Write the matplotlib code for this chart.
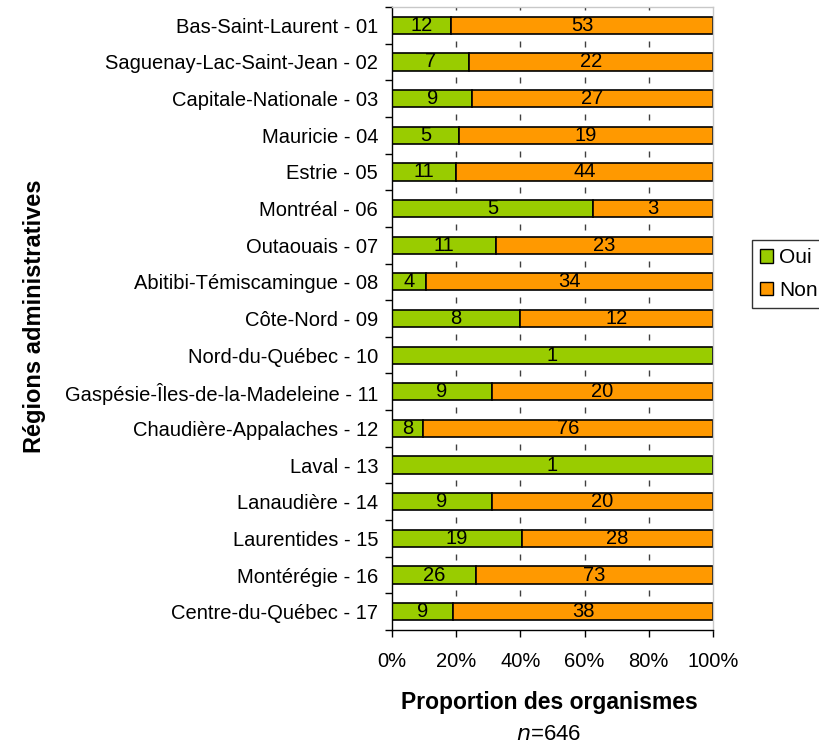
import matplotlib
matplotlib.use("Agg")
import matplotlib.pyplot as plt
import numpy as np
from matplotlib.patches import Patch

plt.rcParams['font.family'] = ['Liberation Sans', 'DejaVu Sans']

regions = ["Bas-Saint-Laurent - 01", "Saguenay-Lac-Saint-Jean - 02", "Capitale-Nationale - 03",
           "Mauricie - 04", "Estrie - 05", "Montréal - 06", "Outaouais - 07",
           "Abitibi-Témiscamingue - 08", "Côte-Nord - 09", "Nord-du-Québec - 10",
           "Gaspésie-Îles-de-la-Madeleine - 11", "Chaudière-Appalaches - 12", "Laval - 13",
           "Lanaudière - 14", "Laurentides - 15", "Montérégie - 16", "Centre-du-Québec - 17"]
oui = [12, 7, 9, 5, 11, 5, 11, 4, 8, 1, 9, 8, 1, 9, 19, 26, 9]
non = [53, 22, 27, 19, 44, 3, 23, 34, 12, 0, 20, 76, 0, 20, 28, 73, 38]
xticks = [0, 20, 40, 60, 80, 100]

green = "#99CC00"
orange = "#FF9900"

fig = plt.figure(figsize=(8.19, 7.45), dpi=100)
ax = fig.add_axes([392/819, 1-630/745, (713-392)/819, (630-7)/745])

oui_a = np.array(oui, float)
non_a = np.array(non, float)
tot = oui_a + non_a
p_oui = oui_a / tot * 100
p_non = non_a / tot * 100
y = np.arange(len(regions))

# small inner tick marks at category boundaries
bounds = np.arange(-0.5, len(regions) - 0.5)
for xv in xticks[1:-1]:
    ax.plot(np.full(len(bounds), xv), bounds, linestyle="none", marker="|",
            markersize=5, markeredgewidth=1, color="#404040", zorder=1)

ax.barh(y, p_oui, height=0.47, color=green, edgecolor="black", linewidth=1.2, zorder=2)
ax.barh(y, p_non, left=p_oui, height=0.47, color=orange, edgecolor="black", linewidth=1.2, zorder=2)

for i in range(len(regions)):
    if oui[i] > 0:
        ax.text(p_oui[i]/2, y[i], str(oui[i]), ha="center", va="center", fontsize=14.5, zorder=3)
    if non[i] > 0:
        ax.text(p_oui[i] + p_non[i]/2, y[i], str(non[i]), ha="center", va="center", fontsize=14.5, zorder=3)

ax.set_xlim(0, 100)
ax.set_ylim(len(regions)-0.5, -0.5)
ax.set_xticks(xticks)
ax.set_xticklabels([f"{t}%" for t in xticks], fontsize=14.5)
ax.set_yticks(y)
ax.set_yticklabels(regions, fontsize=14.5)
ax.tick_params(axis="y", length=0, pad=10)
ax.set_yticks(np.arange(-0.5, len(regions)), minor=True)
ax.tick_params(axis="y", which="minor", length=5, width=1)
ax.tick_params(axis="x", length=5, width=1, direction="out", pad=11)

for s in ["top", "right"]:
    ax.spines[s].set_color("#c8c8c8")
    ax.spines[s].set_linewidth(1)
ax.spines["left"].set_linewidth(1)
ax.spines["bottom"].set_linewidth(1)

fig.text(35/819, 1-316/745, "Régions administratives", rotation=90, ha="center", va="center",
         fontsize=17, fontweight="bold")
fig.text(549/819, 1-702/745, "Proportion des organismes", ha="center", va="center",
         fontsize=16.5, fontweight="bold")
fig.text(549/819, 1-735/745, r"$\it{n}$=646", ha="center", va="center", fontsize=16)

handles = [Patch(facecolor=green, edgecolor="black", label="Oui"),
           Patch(facecolor=orange, edgecolor="black", label="Non")]
leg = fig.legend(handles=handles, loc="upper left", bbox_to_anchor=(752/819, 1-240/745),
                 fontsize=15, frameon=True, fancybox=False, handlelength=0.6, handleheight=0.6,
                 handletextpad=0.3, borderpad=0.4, labelspacing=0.65, borderaxespad=0)
leg.get_frame().set_edgecolor("black")
leg.get_frame().set_linewidth(1)

fig.savefig("out.png", dpi=100)
